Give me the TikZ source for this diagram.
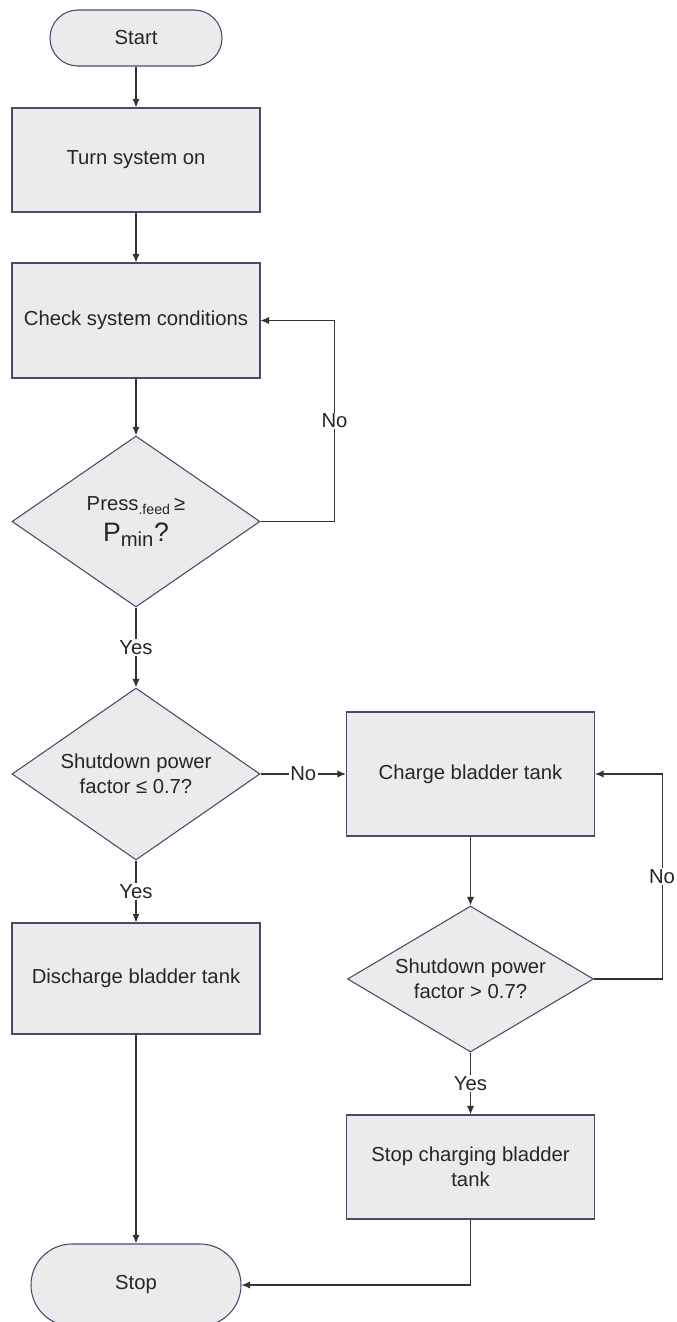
\documentclass[tikz,border=0pt]{standalone}
\usepackage{fontspec}
\setmainfont{Liberation Sans}
\usetikzlibrary{shapes.geometric,arrows.meta}
\definecolor{boxfill}{HTML}{EBEBEB}
\definecolor{boxline}{HTML}{454C6A}
\definecolor{conn}{HTML}{333333}
\definecolor{txt}{HTML}{262626}
\begin{document}
\begin{tikzpicture}[x=0.75pt,y=-0.75pt,
  base/.style={draw=boxline, fill=boxfill, line width=0.8pt, text=txt,
    font=\fontsize{15.2}{18.75}\selectfont, align=center, inner sep=0pt},
  procbox/.style={base, rectangle, minimum width=186pt, minimum height=#1},
  decbox/.style n args={3}{base, diamond, aspect=#3, minimum width=#1, minimum height=#2},
  termbox/.style n args={3}{base, rectangle, minimum width=#1, minimum height=#2, rounded corners=#3},
  arr/.style={draw=conn, line width=0.8pt, -{Latex[length=6.5pt,width=5.5pt]}},
  lbl/.style={fill=white, text=txt, font=\fontsize{15.2}{18.75}\selectfont, inner sep=1pt}
]
\useasboundingbox (0,0) rectangle (676,1322);

\node[termbox={129pt}{42pt}{20.9pt}] (start) at (136,38) {Start};
\node[procbox=78pt] (turn) at (136,160) {Turn system on};
\node[procbox=86.25pt] (check) at (136,320.5) {Check system conditions};
\node[decbox={186pt}{128.25pt}{1.45}] (d1) at (136,521.5) {Press\textsubscript{.feed}\,≥\\[4pt]{\fontsize{20}{21}\selectfont P\textsubscript{\fontsize{15.2}{16}\selectfont min}?}};
\node[decbox={186pt}{129pt}{1.45}] (d2) at (136,774) {Shutdown power\\factor ≤ 0.7?};
\node[procbox=83.25pt] (discharge) at (136,978.5) {Discharge bladder tank};
\node[termbox={157.5pt}{61.5pt}{30.7pt}] (stop) at (136,1285) {Stop};

\node[procbox=93pt] (charge) at (470.5,774) {Charge bladder tank};
\node[decbox={184.5pt}{109.5pt}{1.68}] (d3) at (470.5,979) {Shutdown power\\factor > 0.7?};
\node[procbox=78pt] (stopch) at (470.5,1167) {Stop charging bladder\\tank};

\draw[arr] (start) -- (turn);
\draw[arr] (turn) -- (check);
\draw[arr] (check) -- (d1);
\draw[arr] (d1.east) -- ++(74,0) |- node[lbl,pos=0.25]{No} (check.east);
\draw[arr] (d1) -- node[lbl]{Yes} (d2);
\draw[arr] (d2) -- node[lbl]{No} (charge);
\draw[arr] (d2) -- node[lbl]{Yes} (discharge);
\draw[arr] (charge) -- (d3);
\draw[arr] (d3.east) -- ++(68,0) |- node[lbl,pos=0.25]{No} (charge.east);
\draw[arr] (d3) -- node[lbl]{Yes} (stopch);
\draw[arr] (discharge) -- (stop);
\draw[arr] (stopch.south) |- (stop.east);
\end{tikzpicture}
\end{document}
